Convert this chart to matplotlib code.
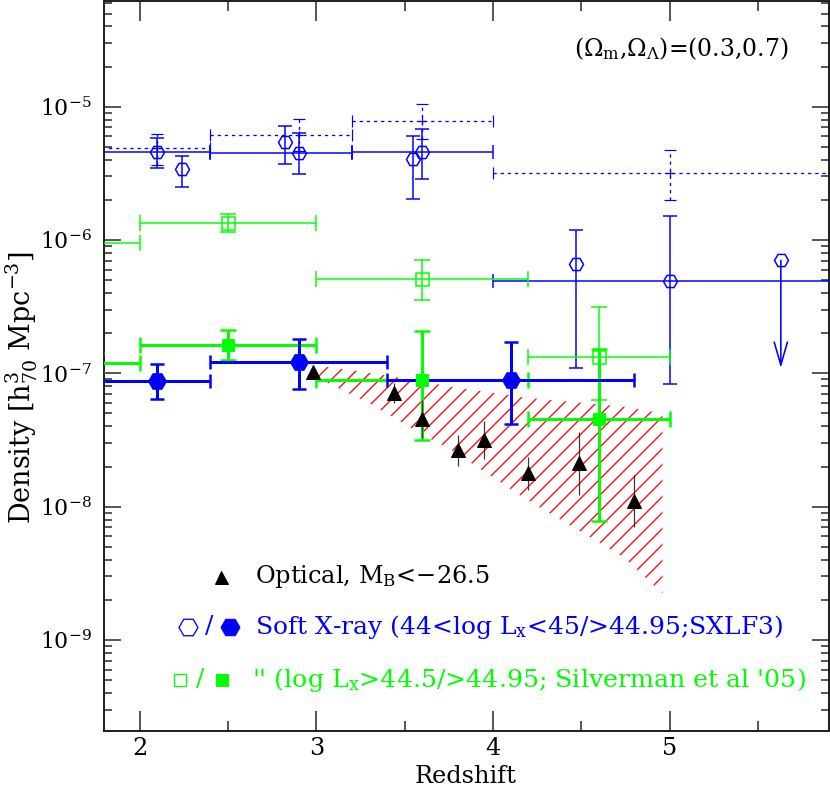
import matplotlib
matplotlib.use("Agg")
import matplotlib.pyplot as plt
import numpy as np
from matplotlib.collections import LineCollection
from matplotlib.transforms import IdentityTransform

plt.rcParams['font.family'] = ['DejaVu Serif']
plt.rcParams['mathtext.fontset'] = 'dejavuserif'

# ---- data (log10 density) ----
# soft X-ray 44<logLx<45, binned (open hexagons, solid)
sx_z = [2.1, 2.9, 3.6, 5.0]
sx_zlo = [1.7, 2.4, 3.2, 4.0]
sx_zhi = [2.4, 3.2, 4.0, 6.0]
sx_logd = [-5.342, -5.35, -5.342, -6.308]
sx_loglo = [-5.462, -5.503, -5.542, -7.078]
sx_loghi = [-5.232, -5.20, -5.167, -5.822]

# soft X-ray, unbinned points (open hexagons)
sx2_z = [2.24, 2.82, 3.55, 4.47]
sx2_logd = [-5.47, -5.262, -5.395, -6.182]
sx2_loglo = [-5.602, -5.432, -5.69, -6.958]
sx2_loghi = [-5.367, -5.142, -5.22, -5.925]

# upper limit
ul_z = 5.63
ul_logd = -6.152
ul_logto = -6.96

# dotted soft X-ray bins
dot_z = [2.1, 2.9, 3.6, 5.0]
dot_zlo = [1.7, 2.4, 3.2, 4.0]
dot_zhi = [2.4, 3.2, 4.0, 6.0]
dot_logd = [-5.312, -5.212, -5.105, -5.50]
dot_loglo = [-5.438, -5.33, -5.245, -5.70]
dot_loghi = [-5.205, -5.095, -4.977, -5.326]

# soft X-ray logLx>44.95 (filled hexagons)
sxf_z = [2.1, 2.9, 4.1]
sxf_zlo = [1.7, 2.4, 3.4]
sxf_zhi = [2.4, 3.4, 4.8]
sxf_logd = [-7.055, -6.917, -7.05]
sxf_loglo = [-7.195, -7.116, -7.38]
sxf_loghi = [-6.928, -6.74, -6.767]

# Silverman et al '05 logLx>44.5 (open squares)
sil_z = [1.75, 2.5, 3.6, 4.6]
sil_zlo = [1.5, 2.0, 3.0, 4.2]
sil_zhi = [2.0, 3.0, 4.2, 5.0]
sil_logd = [-6.02, -5.87, -6.293, -6.875]
sil_loglo = [-6.09, -5.94, -6.448, -7.2]
sil_loghi = [-5.95, -5.805, -6.148, -6.505]

# Silverman et al '05 logLx>44.95 (filled squares)
silf_z = [1.75, 2.5, 3.6, 4.6]
silf_logd = [-6.92, -6.785, -7.05, -7.345]
silf_loglo = [-6.99, -6.90, -7.50, -8.11]
silf_loghi = [-6.85, -6.675, -6.68, -6.815]

# optical QSOs M_B<-26.5
opt_z = [2.98, 3.44, 3.60, 3.80, 3.95, 4.20, 4.49, 4.80]
opt_logd = [-6.99, -7.15, -7.343, -7.577, -7.50, -7.75, -7.675, -7.956]
opt_logerr = [0.04, 0.075, 0.145, 0.115, 0.14, 0.125, 0.237, 0.195]

# hatched region
hatch_z = [3.0, 3.32, 3.6, 3.76, 4.17, 4.74, 4.96]
hatch_loglo = [-7.03, -7.24, -7.46, -7.57, -7.93, -8.38, -8.65]
hatch_loghi = [-6.94, -7.0, -7.06, -7.10, -7.18, -7.25, -7.30]


def errs(z, logd, loglo, loghi, zlo=None, zhi=None):
    z = np.array(z)
    d = 10 ** np.array(logd)
    yerr = [d - 10 ** np.array(loglo), 10 ** np.array(loghi) - d]
    xerr = None
    if zlo is not None:
        xerr = [z - np.array(zlo), np.array(zhi) - z]
    return z, d, xerr, yerr


W, H = 830, 793
fig = plt.figure(figsize=(W / 72, H / 72), dpi=72)
ax = fig.add_axes([103.5 / W, 62 / H, 725 / W, 730 / H])
ax.set_yscale('log')
ax.set_xlim(1.795, 5.9)
ax.set_ylim(10 ** -9.683, 10 ** -4.207)

# hatched band: polygon from data, diagonal lines clipped to it
band = ax.fill_between(hatch_z, 10 ** np.array(hatch_loglo), 10 ** np.array(hatch_loghi),
                       facecolor='none', edgecolor='none', zorder=1)
step = 16
offs = np.arange(-W, H + W, step)
segs = [[(0, c), (W + H, c + W + H)] for c in offs]
hl = LineCollection(segs, colors='red', linewidths=1.3, transform=IdentityTransform(), zorder=1)
ax.add_collection(hl, autolim=False)
hl.set_clip_path(band.get_paths()[0], ax.transData)

blue = '#0000ff'
green = '#00ff00'

# dotted bins
z, d, xe, ye = errs(dot_z, dot_logd, dot_loglo, dot_loghi, dot_zlo, dot_zhi)
eb = ax.errorbar(z, d, xerr=xe, yerr=ye, fmt='+', ms=8, mew=1.2, color=blue,
                 elinewidth=1.3, capsize=6, capthick=1.2, zorder=3)
for lc in eb[2]:
    lc.set_linestyle((0, (2.5, 3)))

# open hexagons (binned)
z, d, xe, ye = errs(sx_z, sx_logd, sx_loglo, sx_loghi, sx_zlo, sx_zhi)
ax.errorbar(z, d, xerr=xe, yerr=ye, fmt='H', ms=14, mfc='none', mec=blue, mew=1.5,
            color=blue, elinewidth=1.5, capsize=7, capthick=1.5, zorder=4)
# open hexagons (unbinned)
z, d, xe, ye = errs(sx2_z, sx2_logd, sx2_loglo, sx2_loghi)
ax.errorbar(z, d, yerr=ye, fmt='H', ms=14, mfc='none', mec=blue, mew=1.5,
            color=blue, elinewidth=1.5, capsize=7, capthick=1.5, zorder=4)
# upper limit
ax.plot([ul_z], [10 ** ul_logd], 'H', ms=14, mfc='none', mec=blue, mew=1.5, zorder=4)
ax.annotate('', xy=(ul_z, 10 ** ul_logto), xytext=(ul_z, 10 ** ul_logd),
            arrowprops=dict(arrowstyle='->,head_length=1.15,head_width=0.33', color=blue,
                            lw=1.6, mutation_scale=20, shrinkA=0, shrinkB=0), zorder=4)

# open squares
z, d, xe, ye = errs(sil_z, sil_logd, sil_loglo, sil_loghi, sil_zlo, sil_zhi)
ax.errorbar(z, d, xerr=xe, yerr=ye, fmt='s', ms=13, mfc='none', mec=green, mew=1.5,
            color=green, elinewidth=1.5, capsize=8, capthick=1.5, zorder=4)

# filled squares
z, d, xe, ye = errs(silf_z, silf_logd, silf_loglo, silf_loghi, sil_zlo, sil_zhi)
ax.errorbar(z, d, xerr=xe, yerr=ye, fmt='s', ms=12, mfc=green, mec=green,
            color=green, elinewidth=3, capsize=8, capthick=2.5, zorder=5)

# filled hexagons
z, d, xe, ye = errs(sxf_z, sxf_logd, sxf_loglo, sxf_loghi, sxf_zlo, sxf_zhi)
ax.errorbar(z, d, xerr=xe, yerr=ye, fmt='H', ms=18, mfc=blue, mec=blue,
            color=blue, elinewidth=3, capsize=7, capthick=2.5, zorder=5)

# optical
od = 10 ** np.array(opt_logd)
oe = np.array(opt_logerr)
ax.errorbar(opt_z, od, yerr=[od - od / 10 ** oe, od * 10 ** oe - od], fmt='none',
            ecolor='#333333', elinewidth=1.2, capsize=0, zorder=6)
ax.plot(opt_z, od, '^', ms=14, color='black', zorder=7)

# axes styling
ax.set_xticks([2, 3, 4, 5])
ax.set_xticks([2.5, 3.5, 4.5, 5.5], minor=True)
ax.set_xticklabels(['2', '3', '4', '5'])
ax.set_yticks([1e-9, 1e-8, 1e-7, 1e-6, 1e-5])
ax.set_yticklabels([r'$10^{-9}$', r'$10^{-8}$', r'$10^{-7}$', r'$10^{-6}$', r'$10^{-5}$'])
ax.tick_params(axis='both', which='both', direction='in', top=True, right=True,
               width=1.5, color='#222222')
ax.tick_params(axis='x', which='major', length=20, labelsize=24, pad=6)
ax.tick_params(axis='x', which='minor', length=10)
ax.tick_params(axis='y', which='major', length=17, labelsize=22, pad=12)
ax.tick_params(axis='y', which='minor', length=8)
for s in ax.spines.values():
    s.set_linewidth(2)
    s.set_color('#222222')

ax.set_xlabel('Redshift', fontsize=24)
ax.xaxis.set_label_coords(0.5, -0.047)
ax.set_ylabel(r'Density [h$^3_{70}$ Mpc$^{-3}$]', fontsize=27)
ax.yaxis.set_label_coords(-0.088, 0.47)

ax.text(0.945, 0.935, r'($\Omega_{\rm m}$,$\Omega_\Lambda$)=(0.3,0.7)', transform=ax.transAxes,
        ha='right', va='center', fontsize=23.5)

# legend
fs = 25
ax.plot([0.162], [0.211], '^', ms=13, color='black', transform=ax.transAxes, clip_on=False)
ax.text(0.209, 0.211, r'Optical, M$_{\rm B}$<$-$26.5', transform=ax.transAxes,
        ha='left', va='center', fontsize=24, color='black')

ax.plot([0.1166], [0.1425], 'H', ms=19, mfc='none', mec=blue, mew=1.3, transform=ax.transAxes)
ax.text(0.1455, 0.1425, '/', transform=ax.transAxes, ha='center', va='center', fontsize=fs, color=blue)
ax.plot([0.1745], [0.1425], 'H', ms=19, color=blue, transform=ax.transAxes)
ax.text(0.209, 0.1425, r'Soft X-ray (44<log L$_{\rm x}$<45/>44.95;SXLF3)', transform=ax.transAxes,
        ha='left', va='center', fontsize=fs, color=blue)

ax.plot([0.1055], [0.070], 's', ms=12, mfc='none', mec=green, mew=1.3, transform=ax.transAxes)
ax.text(0.134, 0.070, '/', transform=ax.transAxes, ha='center', va='center', fontsize=fs, color=green)
ax.plot([0.1634], [0.070], 's', ms=12, color=green, transform=ax.transAxes)
ax.text(0.205, 0.070, r"'' (log L$_{\rm x}$>44.5/>44.95; Silverman et al '05)", transform=ax.transAxes,
        ha='left', va='center', fontsize=25.3, color=green)

fig.savefig('out.png', dpi=72)
